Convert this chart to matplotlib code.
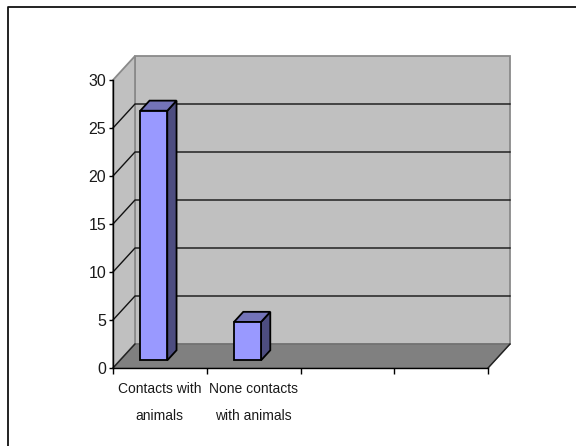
import matplotlib
matplotlib.use("Agg")
import matplotlib.pyplot as plt
from matplotlib.lines import Line2D

categories = ["Contacts with\nanimals", "None contacts\nwith animals"]
values = [26, 4]
y_ticks = [0, 5, 10, 15, 20, 25, 30]
n_slots = 4

W, H = 576, 446
plt.rcParams["font.family"] = ["Liberation Sans", "DejaVu Sans"]

# oblique projection of the depth axis, in data units
DEPTH_X = 22 / 93.75
DEPTH_Y = 2.5
BAR_WIDTH = 0.288
BAR_SHIFT = -0.14
BAR_DEPTH = (0.32, 0.74)

WALL = "#C0C0C0"
FLOOR = "#808080"
EDGE = "#8A8A8A"
FACE = "#9999FF"
TOP = "#7373B8"
SIDE = "#4D4D80"


def at_depth(x, y, d):
    return x + d * DEPTH_X, y + d * DEPTH_Y


def poly(ax, pts, color, edge="none", lw=0.0, z=1):
    ax.fill(*zip(*pts), facecolor=color, edgecolor=edge, linewidth=lw,
            clip_on=False, zorder=z, joinstyle="miter")


fig = plt.figure(figsize=(W / 100, H / 100), dpi=100, facecolor="white")

# chart frame, open on the right and at the bottom
fig.add_artist(Line2D([7.5 / W, 7.5 / W, 1], [0, 1 - 6.5 / H, 1 - 6.5 / H],
                      color="#111111", lw=1.3))

ax = fig.add_axes([113 / W, 1 - 368 / H, 375 / W, 288 / H])
ax.set_xlim(0, n_slots)
ax.set_ylim(0, 30)
ax.patch.set_visible(False)

ymin, ymax = 0, y_ticks[-1]

# back wall, side wall, floor
poly(ax, [at_depth(0, ymin, 1), at_depth(n_slots, ymin, 1),
          at_depth(n_slots, ymax, 1), at_depth(0, ymax, 1)], WALL, EDGE, 1.3)
poly(ax, [(0, ymin), at_depth(0, ymin, 1), at_depth(0, ymax, 1), (0, ymax)],
     WALL, EDGE, 1.3)
poly(ax, [(0, ymin), (n_slots, ymin), at_depth(n_slots, ymin, 1), at_depth(0, ymin, 1)],
     FLOOR, "#6E6E6E", 1.0, z=1.5)

# gridlines run along the side wall and across the back wall
for t in y_ticks[1:-1]:
    bx, by = at_depth(0, t, 1)
    ex, ey = at_depth(n_slots, t, 1)
    ax.plot([0, bx, ex], [t, by, ey], color="#111111", lw=1.0, clip_on=False, zorder=2)
ax.plot(*zip((n_slots, 0), at_depth(n_slots, 0, 1)), color="#222222", lw=1.0,
        clip_on=False, zorder=2)
ax.plot(*zip((0, 0), at_depth(0, 0, 1)), color="#222222", lw=1.0, clip_on=False, zorder=2)

# bars as three visible faces
for i, v in enumerate(values):
    x0 = i + 0.5 + BAR_SHIFT - BAR_WIDTH / 2
    x1 = x0 + BAR_WIDTH
    d0, d1 = BAR_DEPTH
    kw = dict(edge="black", lw=1.3, z=3)
    poly(ax, [at_depth(x1, 0, d0), at_depth(x1, 0, d1), at_depth(x1, v, d1), at_depth(x1, v, d0)],
         SIDE, **kw)
    poly(ax, [at_depth(x0, v, d0), at_depth(x1, v, d0), at_depth(x1, v, d1), at_depth(x0, v, d1)],
         TOP, **kw)
    poly(ax, [at_depth(x0, 0, d0), at_depth(x1, 0, d0), at_depth(x1, v, d0), at_depth(x0, v, d0)],
         FACE, **kw)

for s in ("top", "right"):
    ax.spines[s].set_visible(False)
for s in ("left", "bottom"):
    ax.spines[s].set_linewidth(1.0)
    ax.spines[s].set_zorder(4)

ax.set_yticks(y_ticks)
ax.tick_params(axis="y", length=3, width=1.0, pad=2, labelsize=11.5, labelcolor="#1A1A1A")
ax.set_xticks(range(n_slots + 1), [""] * (n_slots + 1))
ax.tick_params(axis="x", which="major", length=4, width=1.0)
ax.set_xticks([i + 0.5 for i in range(len(categories))], categories, minor=True,
              ha="center", linespacing=2.15)
ax.tick_params(axis="x", which="minor", length=0, pad=10, labelsize=10, labelcolor="#1A1A1A")

fig.savefig("out.png", dpi=100, facecolor="white")
